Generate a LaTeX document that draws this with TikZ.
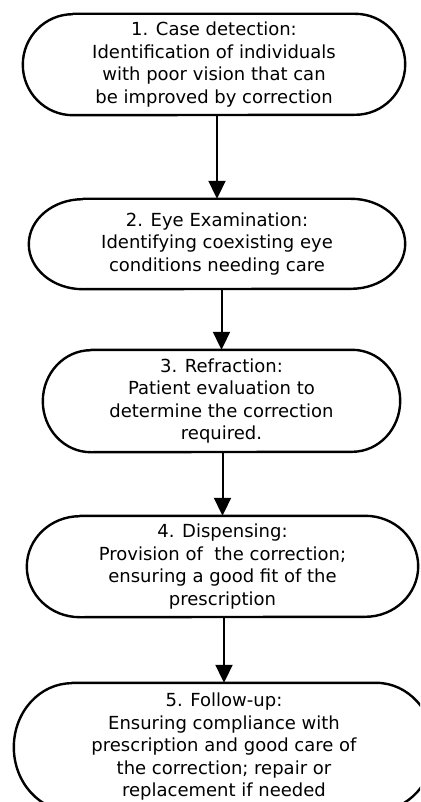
\documentclass[tikz,border=0pt]{standalone}
\usepackage{fontspec}
\setmainfont{DejaVu Sans}
\usetikzlibrary{arrows.meta}
\tikzset{
  stadbox/.style={draw=none, inner sep=0pt, align=center,
    font=\fontsize{18}{22.5}\selectfont},
  boxline/.style={line width=2.4pt, line join=round},
  flowarrow/.style={line width=2pt, -{Triangle[width=17pt,length=18pt]}}
}
\newcommand\stadpath[3]{%
  \draw[boxline] (#1.north west) -- (#1.north east)
    arc[start angle=90,end angle=-90,x radius=#2,y radius=#3]
    -- (#1.south west)
    arc[start angle=270,end angle=90,x radius=#2,y radius=#3] -- cycle;}
\begin{document}
\begin{tikzpicture}[x=1pt,y=1pt]
\useasboundingbox (0,0) rectangle (420,-802);
\clip (0,0) rectangle (420,-802);
\node[stadbox, minimum width=282pt, minimum height=101pt] (b1) at (214,-64.5)
  {1. Case detection:\\Identification of individuals\\with poor vision that can\\be improved by correction};
\node[stadbox, minimum width=268pt, minimum height=90pt] (b2) at (217,-244)
  {2. Eye Examination:\\Identifying coexisting eye\\conditions needing care};
\node[stadbox, minimum width=261pt, minimum height=102pt] (b3) at (221.5,-401)
  {3. Refraction:\\Patient evaluation to\\determine the correction\\required.};
\node[stadbox, minimum width=285pt, minimum height=101pt] (b4) at (222.5,-566.5)
  {4. Dispensing:\\Provision of\ \ the correction;\\ensuring a good fit of the\\prescription};
\node[stadbox, minimum width=304pt, minimum height=128pt] (b5) at (224,-747)
  {5. Follow-up:\\Ensuring compliance with\\prescription and good care of\\the correction; repair or\\replacement if needed};
\stadpath{b1}{50pt}{50.5pt}
\stadpath{b2}{54pt}{45pt}
\stadpath{b3}{48pt}{51pt}
\stadpath{b4}{53pt}{50.5pt}
\stadpath{b5}{58pt}{64pt}
\draw[flowarrow] (b2.north |- b1.south) -- (b2.north);
\draw[flowarrow] (b3.north |- b2.south) -- (b3.north);
\draw[flowarrow] (b4.north |- b3.south) -- (b4.north);
\draw[flowarrow] (b5.north |- b4.south) -- (b5.north);
\end{tikzpicture}
\end{document}
